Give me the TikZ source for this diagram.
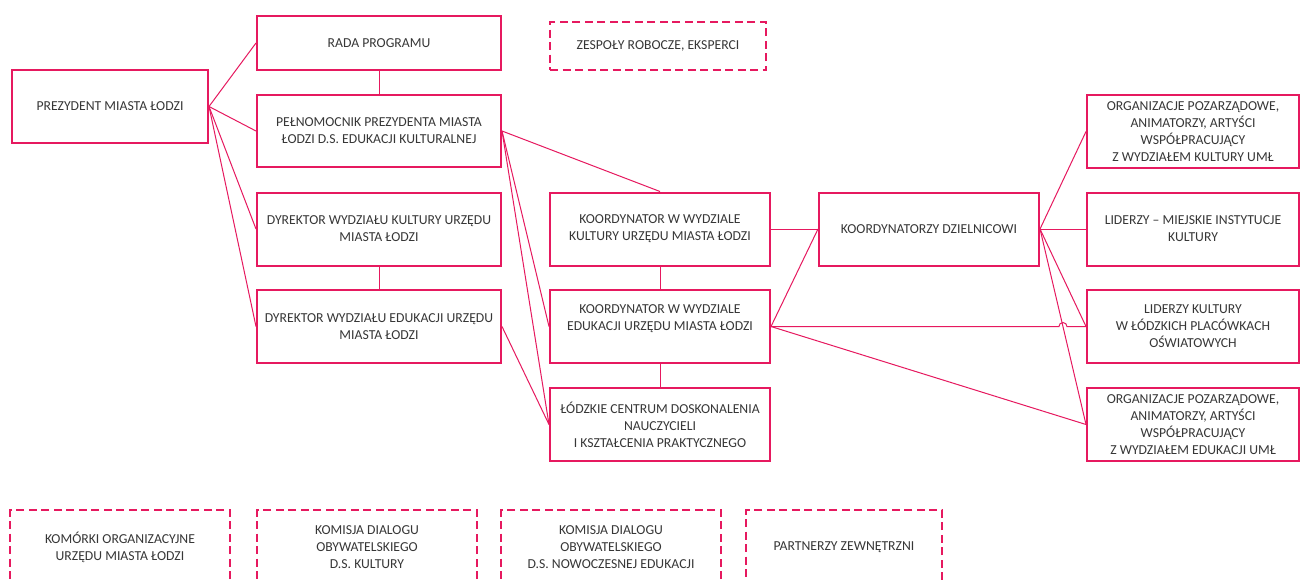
\documentclass[tikz,border=0pt]{standalone}
\usepackage{fontspec}
\setmainfont{Carlito}
\definecolor{pinkline}{RGB}{230,25,95}
\definecolor{txtgrey}{RGB}{55,55,55}
\begin{document}
\begin{tikzpicture}[x=1pt,y=-1pt,
  box/.style={draw=pinkline, line width=2pt, rectangle, align=center, inner sep=0pt,
    text=txtgrey, font=\fontsize{13.7}{17}\selectfont, minimum height=73pt},
  dbox/.style={box, line width=1.5pt, dash pattern=on 8pt off 4.5pt},
  conn/.style={draw=pinkline, line width=1pt}]
\useasboundingbox (0,0) rectangle (1300,579);
\clip (0,0) rectangle (1300,579);
\fill[white] (0,0) rectangle (1300,579);
% nodes
\node[box, minimum width=196pt] (prez) at (110,106.5) {PREZYDENT MIASTA ŁODZI};
\node[box, minimum width=244pt, minimum height=54pt] (rada) at (379,43) {RADA PROGRAMU};
\node[box, minimum width=244pt, minimum height=72pt] (pel) at (379,131) {PEŁNOMOCNIK PREZYDENTA MIASTA\\ŁODZI D.S. EDUKACJI KULTURALNEJ};
\node[box, minimum width=244pt] (dk) at (379,229) {DYREKTOR WYDZIAŁU KULTURY URZĘDU\\MIASTA ŁODZI};
\node[box, minimum width=244pt] (de) at (379,326.5) {DYREKTOR WYDZIAŁU EDUKACJI URZĘDU\\MIASTA ŁODZI};
\node[box, minimum width=220pt] (kk) at (660,229) {KOORDYNATOR W WYDZIALE\\KULTURY URZĘDU MIASTA ŁODZI};
\node[box, minimum width=220pt] (ke) at (660,326.5) {KOORDYNATOR W WYDZIALE\\EDUKACJI URZĘDU MIASTA ŁODZI\\\mbox{}};
\node[box, minimum width=220pt] (lcd) at (660,424.5) {ŁÓDZKIE CENTRUM DOSKONALENIA\\NAUCZYCIELI\\I KSZTAŁCENIA PRAKTYCZNEGO};
\node[box, minimum width=220pt] (kd) at (929,229) {KOORDYNATORZY DZIELNICOWI};
\node[box, minimum width=212pt] (ok) at (1193,131.5) {ORGANIZACJE POZARZĄDOWE,\\ANIMATORZY, ARTYŚCI\\WSPÓŁPRACUJĄCY\\Z WYDZIAŁEM KULTURY UMŁ};
\node[box, minimum width=212pt] (lm) at (1193,229) {LIDERZY – MIEJSKIE INSTYTUCJE\\KULTURY};
\node[box, minimum width=212pt] (lk) at (1193,326.5) {LIDERZY KULTURY\\W ŁÓDZKICH PLACÓWKACH\\OŚWIATOWYCH};
\node[box, minimum width=212pt] (oe) at (1193,424.5) {ORGANIZACJE POZARZĄDOWE,\\ANIMATORZY, ARTYŚCI\\WSPÓŁPRACUJĄCY\\Z WYDZIAŁEM EDUKACJI UMŁ};
\node[dbox, minimum width=216pt, minimum height=48pt] (zesp) at (658,46) {ZESPOŁY ROBOCZE, EKSPERCI};
\node[dbox, minimum width=220pt, minimum height=74pt] (kom) at (120,547) {KOMÓRKI ORGANIZACYJNE\\URZĘDU MIASTA ŁODZI};
\node[dbox, minimum width=220pt, minimum height=74pt] (kdk) at (367,547) {KOMISJA DIALOGU\\OBYWATELSKIEGO\\D.S. KULTURY};
\node[dbox, minimum width=220pt, minimum height=74pt] (kde) at (611,547) {KOMISJA DIALOGU\\OBYWATELSKIEGO\\D.S. NOWOCZESNEJ EDUKACJI};
\node[dbox, minimum width=196pt, minimum height=74pt] (part) at (844,547) {PARTNERZY ZEWNĘTRZNI};
% connectors
\draw[conn] (prez.east) -- (rada.west);
\draw[conn] (prez.east) -- (pel.west);
\draw[conn] (prez.east) -- (dk.west);
\draw[conn] (prez.east) -- (de.west);
\draw[conn] (rada.south) -- (pel.north);
\draw[conn] (dk.south) -- (de.north);
\draw[conn] (pel.east) -- (kk.north);
\draw[conn] (pel.east) -- (ke.west);
\draw[conn] (pel.east) -- (lcd.west);
\draw[conn] (de.east) -- (lcd.west);
\draw[conn] (kk.south) -- (ke.north);
\draw[conn] (ke.south) -- (lcd.north);
\draw[conn] (kk.east) -- (kd.west);
\draw[conn] (ke.east) -- (kd.west);
\draw[conn] (ke.east) -- (oe.west);
\draw[conn] (kd.east) -- (ok.west);
\draw[conn] (kd.east) -- (lm.west);
\draw[conn] (kd.east) -- (lk.west);
\draw[conn] (kd.east) -- (oe.west);
\coordinate (hop) at (intersection of kd.east--oe.west and ke.east--lk.west);
\draw[conn] (ke.east) -- ([xshift=-4pt]hop) arc[start angle=180, end angle=0, radius=4pt] -- (lk.west);
\end{tikzpicture}
\end{document}
